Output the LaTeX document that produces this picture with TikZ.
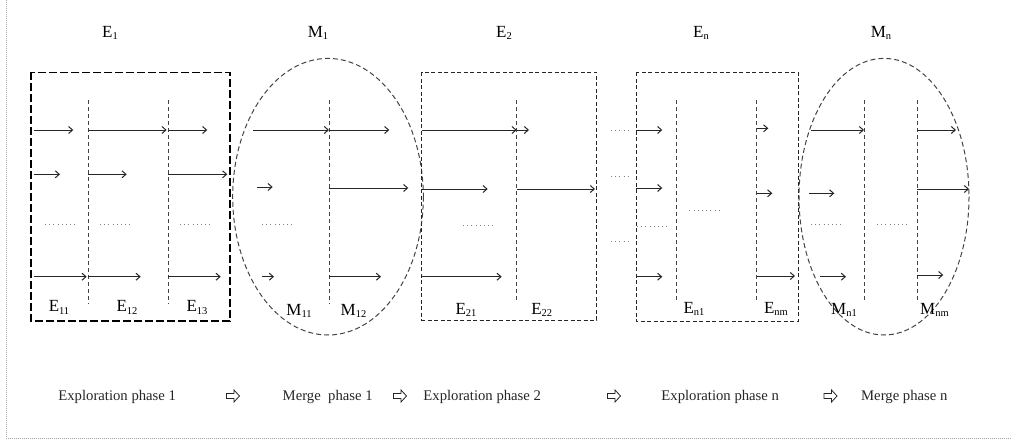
\documentclass[tikz,border=0pt]{standalone}
\usepackage{fontspec}
\setmainfont{Liberation Serif}
\usetikzlibrary{arrows.meta}
\definecolor{ink}{HTML}{262626}
\definecolor{dashc}{HTML}{444444}
\tikzset{
  flow/.style={draw=ink, line width=1pt, -{Straight Barb[length=4pt,width=7pt,line width=1pt]}},
  vline/.style={draw=dashc, line width=1pt, dash pattern=on 4pt off 3pt},
  ebox/.style={draw=black!85, line width=1pt, dash pattern=on 4pt off 2.5pt},
  ebox1/.style={draw=black, line width=1.3pt, dash pattern=on 8pt off 3pt},
  mell/.style={draw=dashc, line width=1pt, dash pattern=on 5pt off 3pt},
  dots/.style={draw=gray, line width=1pt, dash pattern=on 1pt off 3.2pt},
  frame/.style={draw=gray!70, line width=1pt, dash pattern=on 1pt off 1pt},
  lab/.style={font=\fontsize{17}{19}\selectfont, anchor=base, inner sep=0pt},
  top/.style={font=\fontsize{17}{19}\selectfont, anchor=base, inner sep=0pt},
  phase/.style={font=\fontsize{14.7}{16}\selectfont, anchor=base, inner sep=0pt, text=black!85},
  whitearr/.pic={\draw[draw=ink, line width=0.8pt, fill=white] (-6.5,-2.5) -- (1,-2.5) -- (1,-6) -- (6.5,0) -- (1,6) -- (1,2.5) -- (-6.5,2.5) -- cycle;}
}
\newcommand\sbs[1]{\raisebox{-0.35ex}{\fontsize{10.5}{11}\selectfont #1}}
\newcommand\arr[3]{\draw[flow] (#1,#3) -- (#2,#3);}
\newcommand\dts[3]{\draw[dots] (#1,#3) -- (#2,#3);}
\newcommand\vl[1]{\draw[vline] (#1,100) -- (#1,304);}
\begin{document}
\begin{tikzpicture}[x=1pt,y=-1pt]
\useasboundingbox (0,0) rectangle (1011,442);
% outer frame
\draw[frame] (6,0) -- (6,438) -- (1011,438);

% top labels
\node[top] (tE1) at (110,37) {E\sbs{1}};
\node[top] (tM1) at (318,37) {M\sbs{1}};
\node[top] (tE2) at (504,37) {E\sbs{2}};
\node[top] (tEn) at (701,37) {E\sbs{n}};
\node[top] (tMn) at (881,37) {M\sbs{n}};

% ---------- E1 ----------
\draw[ebox1] (31,72.3) rectangle (230,321);
\vl{88.3}\vl{168.3}
\arr{34}{73.3}{130}\arr{88.3}{166.7}{130}\arr{168.3}{207.3}{130}
\arr{34}{60}{174.3}\arr{88.3}{126.7}{174.3}\arr{168.3}{227.3}{174.3}
\arr{34}{86.7}{276.7}\arr{88.3}{140.7}{276.7}\arr{168.3}{220.7}{276.7}
\dts{45}{77}{224.3}\dts{100}{132}{224.3}\dts{180}{212}{224.3}
\node[lab] (E11) at (59,311.7) {E\sbs{11}};
\node[lab] (E12) at (127,311.7) {E\sbs{12}};
\node[lab] (E13) at (197,311.7) {E\sbs{13}};

% ---------- M1 ----------
\draw[mell] (328,196.7) ellipse [x radius=95.3, y radius=138.3];
\vl{329}
\arr{253.3}{329}{130}\arr{329}{389.3}{130}
\arr{256.7}{272.7}{187}\arr{329}{408.3}{188}
\arr{262.3}{274}{276.7}\arr{329}{381}{276.7}
\dts{262}{293}{224.3}
\node[lab] (M11) at (299,315) {M\sbs{11}};
\node[lab] (M12) at (353.5,315) {M\sbs{12}};

% ---------- E2 ----------
\draw[ebox] (421.7,72.3) rectangle (596.7,320);
\draw[vline] (516.7,100) -- (516.7,302);
\arr{421.7}{516.7}{130}\arr{516.7}{529}{130}
\arr{421.7}{487.7}{189}\arr{516.7}{595}{189}
\arr{421.7}{501.7}{276.7}
\dts{463}{494}{225}
\node[lab] (E21) at (466,314) {E\sbs{21}};
\node[lab] (E22) at (541.7,314) {E\sbs{22}};

% dots between
\dts{611}{631}{130.7}\dts{611}{631}{176}\dts{611}{631}{241.7}

% ---------- En ----------
\draw[ebox] (636,72.3) rectangle (798.3,321);
\draw[vline] (676.7,100) -- (676.7,302);
\draw[vline] (756.7,100) -- (756.7,302);
\arr{636}{662.3}{130}\arr{756.7}{768.3}{128.3}
\arr{636}{662.3}{188}\arr{756.7}{772.3}{193.3}
\arr{636}{662.3}{276.7}\arr{756.7}{795}{276}
\dts{637}{668}{226.7}\dts{689.3}{721}{210.7}
\node[lab] (En1) at (694,313) {E\sbs{n1}};
\node[lab] (Enm) at (776,313) {E\sbs{nm}};

% ---------- Mn ----------
\draw[mell] (884,196.7) ellipse [x radius=85, y radius=138.3];
\draw[vline] (864,100) -- (864,302);
\draw[vline] (917.3,100) -- (917.3,302);
\arr{810.7}{864}{130}\arr{917.3}{956}{130}
\arr{809.3}{834.3}{193.3}\arr{917.3}{969}{189}
\arr{820}{846}{276.7}\arr{917.3}{943.3}{275}
\dts{811}{842}{224.3}\dts{877}{908}{224.3}
\node[lab] (Mn1) at (844,314) {M\sbs{n1}};
\node[lab] (Mnm) at (934.5,314) {M\sbs{nm}};

% ---------- bottom phases ----------
\node[phase] (p1) at (117.2,400) {Exploration phase 1};
\pic at (233,396) {whitearr};
\node[phase] (p2) at (327.7,400) {Merge\ \ phase 1};
\pic at (400,396) {whitearr};
\node[phase] (p3) at (482.2,400) {Exploration phase 2};
\pic at (614,396) {whitearr};
\node[phase] (p4) at (720.2,400) {Exploration phase n};
\pic at (830.5,396) {whitearr};
\node[phase] (p5) at (904.3,400) {Merge phase n};
\end{tikzpicture}
\end{document}
